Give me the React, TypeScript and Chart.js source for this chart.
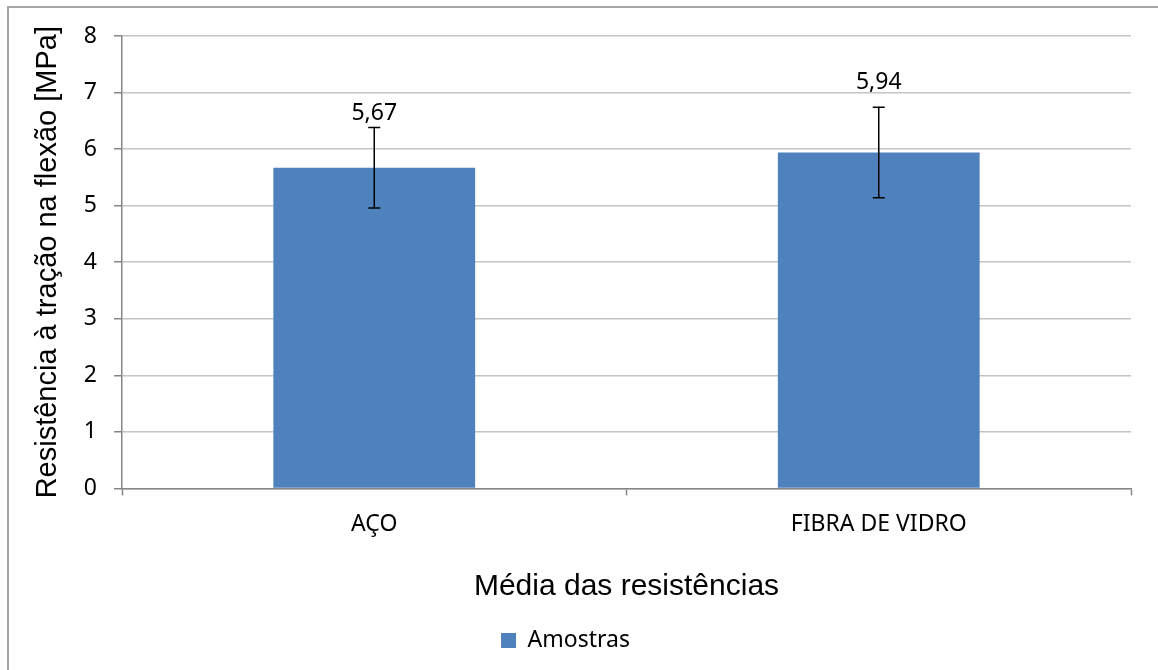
import React, { useEffect, useRef } from "react";
import { Chart, registerables } from "chart.js";

Chart.register(...registerables);

const categories = ["AÇO", "FIBRA DE VIDRO"];
const seriesName = "Amostras";
const values = [5.67, 5.94];
const errors = [0.71, 0.8];
const valueLabels = ["5,67", "5,94"];
const yTicks = [0, 1, 2, 3, 4, 5, 6, 7, 8];
const yTitle = "Resistência à tração na flexão [MPa]";
const xTitle = "Média das resistências";

const errorBarPlugin = {
  id: "errorBarsAndLabels",
  afterDatasetsDraw(chart: any, _args: any, opts: any) {
    const ctx = chart.ctx;
    const yScale = chart.scales.y;
    const meta = chart.getDatasetMeta(0);
    meta.data.forEach((bar: any, i: number) => {
      const x = bar.x;
      const yTop = yScale.getPixelForValue(values[i] + errors[i]);
      const yBot = yScale.getPixelForValue(values[i] - errors[i]);
      ctx.save();
      ctx.strokeStyle = "#000";
      ctx.lineWidth = 1.5;
      ctx.beginPath();
      ctx.moveTo(x, yTop);
      ctx.lineTo(x, yBot);
      ctx.moveTo(x - 6, yTop);
      ctx.lineTo(x + 6, yTop);
      ctx.moveTo(x - 6, yBot);
      ctx.lineTo(x + 6, yBot);
      ctx.stroke();
      ctx.fillStyle = "#000";
      ctx.font = "23px 'Noto Sans'";
      ctx.textAlign = "center";
      ctx.textBaseline = "middle";
      const off = (opts.labelOffsets || [14, 25])[i];
      ctx.fillText(valueLabels[i], x, yTop - off);
      ctx.restore();
    });
  },
};

export default function App() {
  const ref = useRef<HTMLCanvasElement>(null);
  useEffect(() => {
    if (!ref.current) return;
    const chart = new Chart(ref.current, {
      type: "bar",
      data: {
        labels: categories,
        datasets: [
          {
            label: seriesName,
            data: values,
            backgroundColor: "#4f81bd",
            borderWidth: 0,
            barPercentage: 0.4,
            categoryPercentage: 1,
          },
        ],
      },
      plugins: [errorBarPlugin],
      options: {
        responsive: false,
        animation: false,
        devicePixelRatio: 1,
        layout: { padding: { left: 0, right: 27, top: 36, bottom: 8 } },
        plugins: {
          tooltip: { enabled: false },
          errorBarsAndLabels: { labelOffsets: [14, 25] },
          legend: {
            position: "bottom",
            labels: {
              boxWidth: 15,
              boxHeight: 15,
              color: "#000",
              font: { family: "'Noto Sans'", size: 23 },
              padding: 10,
            },
          },
        } as any,
        scales: {
          x: {
            offset: true,
            grid: {
              offset: true,
              drawOnChartArea: false,
              drawTicks: true,
              tickLength: 7,
              tickColor: "#868686",
              tickWidth: 1.5,
            },
            border: { color: "#868686", width: 1.5 },
            ticks: {
              color: "#000",
              font: { family: "'Noto Sans'", size: 23 },
              padding: 15,
              maxRotation: 0,
            },
            title: {
              display: true,
              text: xTitle,
              color: "#000",
              font: { family: "'Liberation Sans'", size: 30 },
              padding: { top: 16, bottom: 14 },
            },
          },
          y: {
            min: 0,
            max: 8,
            afterFit(scale: any) {
              scale.width = 122;
            },
            afterBuildTicks(scale: any) {
              scale.ticks = yTicks.map((v) => ({ value: v }));
            },
            grid: {
              color: "#c4c4c4",
              lineWidth: 1.5,
              tickLength: 8,
              tickColor: "#868686",
              tickWidth: 1.5,
            },
            border: { color: "#868686", width: 1.5 },
            ticks: {
              color: "#000",
              font: { family: "'Noto Sans'", size: 23 },
              padding: 17,
            },
            title: {
              display: true,
              text: yTitle,
              color: "#000",
              font: { family: "'Liberation Sans'", size: 29 },
              padding: { top: 31, bottom: 0 },
            },
          },
        },
      },
    });
    return () => chart.destroy();
  }, []);
  return (
    <div style={{ position: "absolute", left: 0, top: 0, width: 1158, height: 670, overflow: "hidden", background: "#fff" }}>
      <div
        style={{
          position: "absolute",
          left: 7,
          top: 6,
          width: 1200,
          height: 700,
          borderLeft: "2px solid #a6a6a6",
          borderTop: "2px solid #a6a6a6",
        }}
      />
      <canvas ref={ref} width={1158} height={670} style={{ position: "absolute", left: 0, top: 0, display: "block" }} />
    </div>
  );
}
